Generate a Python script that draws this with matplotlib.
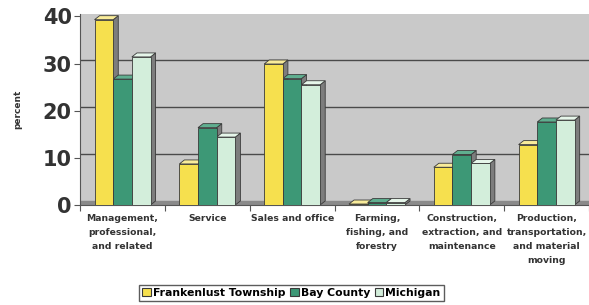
import numpy as np
import matplotlib.pyplot as plt
from matplotlib.patches import Polygon, Patch

categories = ['Management,\nprofessional,\nand related', 'Service', 'Sales and office',
              'Farming,\nfishing, and\nforestry', 'Construction,\nextraction, and\nmaintenance',
              'Production,\ntransportation,\nand material\nmoving']
series = ['Frankenlust Township', 'Bay County', 'Michigan']
township = [39.3, 8.7, 29.9, 0.2, 8.0, 12.8]
bay = [26.7, 16.4, 26.8, 0.5, 10.7, 17.6]
michigan = [31.4, 14.4, 25.5, 0.5, 8.8, 18.0]
yticks = [0, 10, 20, 30, 40]

colors = ['#f6e04e', '#3d9876', '#d3eedb']
tops = ['#f9ec9a', '#5fae8f', '#e6f6ea']
side = '#7d7d7d'
edge = '#3a3a3a'

fig = plt.figure(figsize=(5.89, 3.05), dpi=100)
ax = fig.add_axes([0.136, 0.328, 0.864, 0.626])
ax.set_facecolor('#c9c9c9')

x = np.arange(len(categories))
w = 0.22
dx, dy = 0.06, 0.85

ax.set_xlim(-0.5, 5.5)
ax.set_ylim(0, 40.5)

# back-wall gridlines
for t in yticks[1:]:
    ax.axhline(t + dy, color='#4a4a4a', lw=1.0, zorder=1)
# floor
ax.fill_between([-0.5, 5.5], 0, dy, color='#8a8a8a', zorder=1)

for i, vals in enumerate([township, bay, michigan]):
    xs = x + (i - 1) * w
    ax.bar(xs, vals, width=w, color=colors[i], edgecolor=edge, lw=0.6, zorder=3)
    for xc, v in zip(xs, vals):
        l, r = xc - w / 2, xc + w / 2
        ax.add_patch(Polygon([(r, 0), (r + dx, dy), (r + dx, v + dy), (r, v)],
                             closed=True, fc=side, ec=edge, lw=0.6, zorder=2.5))
        ax.add_patch(Polygon([(l, v), (l + dx, v + dy), (r + dx, v + dy), (r, v)],
                             closed=True, fc=tops[i], ec=edge, lw=0.6, zorder=2.5))

ax.set_yticks(yticks)
ax.set_yticklabels([str(t) for t in yticks], fontsize=15, fontweight='bold', color='#333333')
ax.set_xticks(np.arange(-0.5, 5.6, 1.0))
ax.set_xticklabels([])
ax.tick_params(axis='x', length=4, color='#555555')
ax.tick_params(axis='y', length=4, color='#555555', pad=2)
for c, lab in zip(x, categories):
    ax.text(c, -1.9, lab, ha='center', va='top', fontsize=6.7, fontweight='bold',
            color='#333333', linespacing=1.7)
for s in ['top', 'right']:
    ax.spines[s].set_visible(False)
ax.spines['left'].set_color('#555555')
ax.spines['bottom'].set_color('#555555')

fig.text(0.03, 0.64, 'percent', rotation=90, ha='center', va='center',
         fontsize=6.5, fontweight='bold', color='#333333')

handles = [Patch(fc=colors[i], ec=edge, lw=0.8) for i in range(3)]
fig.legend(handles, series, loc='center', bbox_to_anchor=(0.495, 0.04), ncol=3,
           prop={'size': 7.8, 'weight': 'bold'}, frameon=True, fancybox=False,
           edgecolor='#333333', handlelength=0.8, handleheight=0.8,
           handletextpad=0.2, columnspacing=0.4, borderpad=0.3)

fig.savefig('out.png', dpi=100, facecolor='white')
